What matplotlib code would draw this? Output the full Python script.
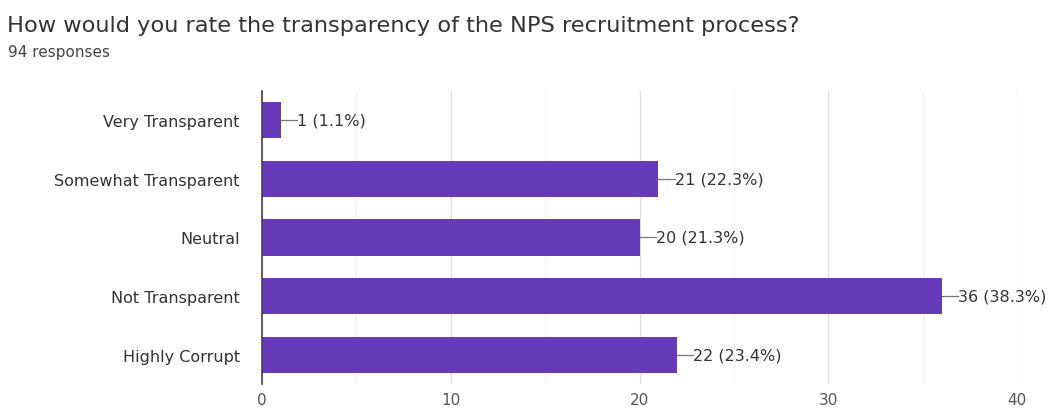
import matplotlib
matplotlib.use("Agg")
import matplotlib.pyplot as plt
from matplotlib.ticker import MultipleLocator

categories = ["Very Transparent", "Somewhat Transparent", "Neutral", "Not Transparent", "Highly Corrupt"]
counts = [1, 21, 20, 36, 22]
percents = ["1.1%", "22.3%", "21.3%", "38.3%", "23.4%"]
xticks = [0, 10, 20, 30, 40]

plt.rcParams['font.family'] = ['DejaVu Sans']

fig = plt.figure(figsize=(10.52, 4.14), dpi=100)
ax = fig.add_axes([0.249, 0.070, 0.718, 0.708])

ypos = list(range(len(categories)))
bar_color = "#673ab7"
ax.barh(ypos, counts, height=0.62, color=bar_color, zorder=3)

for y, c, p in zip(ypos, counts, percents):
    ax.plot([c, c + 0.85], [y, y], color="#777777", lw=0.9, zorder=3)
    ax.text(c + 0.85, y, f"{c} ({p})", va="center", ha="left", fontsize=11.5, color="#333333")

ax.set_xlim(0, 40)
ax.set_ylim(4.5, -0.5)
ax.set_yticks(ypos)
ax.set_yticklabels(categories, fontsize=11.5, color="#333333")
ax.set_xticks(xticks)
ax.set_xticklabels([str(t) for t in xticks], fontsize=11, color="#555555")
ax.xaxis.set_minor_locator(MultipleLocator(5))
ax.grid(axis="x", which="major", color="#dddddd", lw=0.9, zorder=0)
ax.grid(axis="x", which="minor", color="#efefef", lw=0.8, zorder=0)
ax.tick_params(axis="both", which="both", length=0)
ax.tick_params(axis="y", pad=16)
ax.tick_params(axis="x", pad=6)
for s in ["top", "right", "bottom"]:
    ax.spines[s].set_visible(False)
ax.spines["left"].set_color("#444444")
ax.spines["left"].set_linewidth(1.2)
ax.spines["left"].set_zorder(4)

fig.text(0.007, 0.937, "How would you rate the transparency of the NPS recruitment process?",
         fontsize=16.2, color="#333333", ha="left", va="center")
fig.text(0.008, 0.873, "94 responses", fontsize=11, color="#444444", ha="left", va="center")

fig.savefig("out.png", dpi=100, facecolor="white")
